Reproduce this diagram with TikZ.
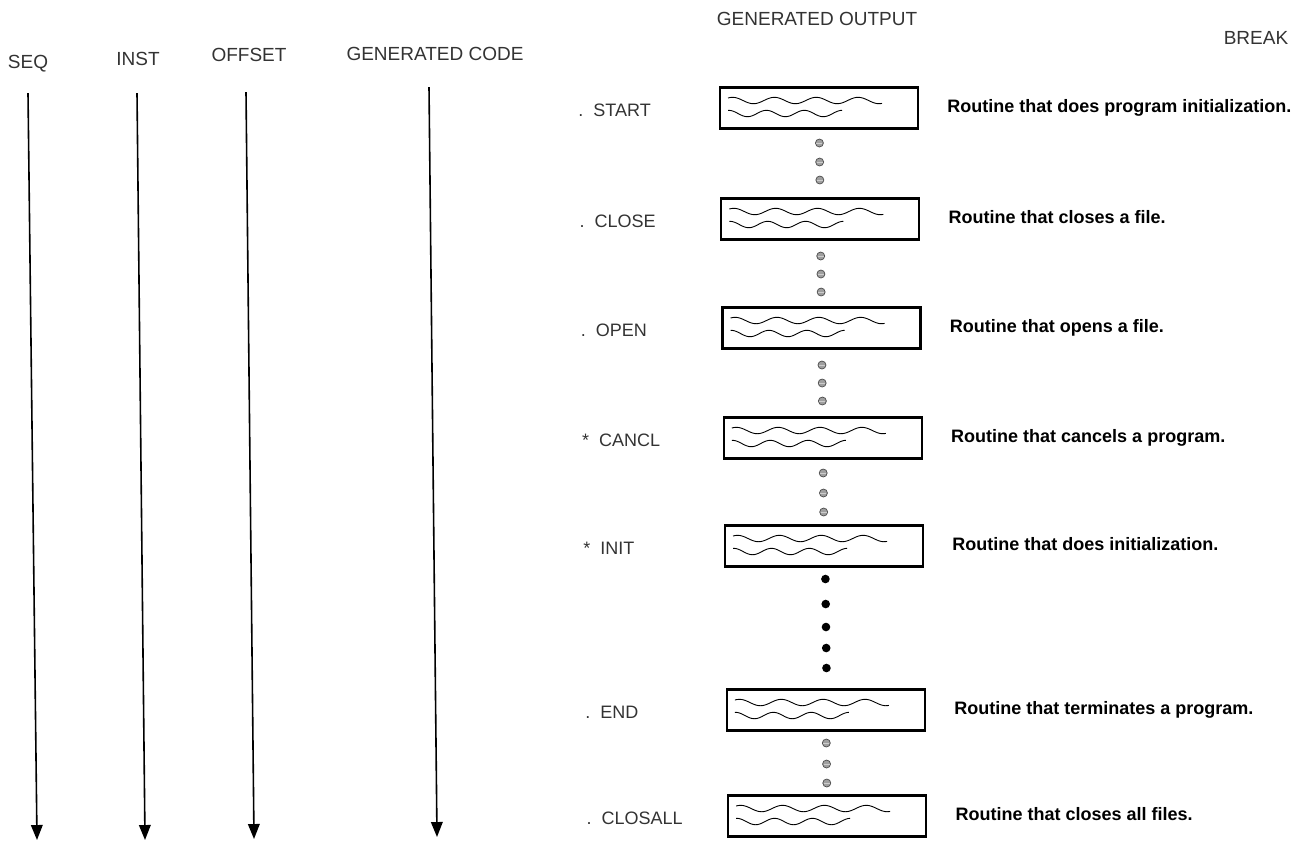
\documentclass[tikz,border=0pt]{standalone}
\usepackage{fontspec}
\setmainfont{Liberation Sans}
\usetikzlibrary{arrows.meta}
\begin{document}
\begin{tikzpicture}[x=0.5pt,y=-0.5pt,
  hdr/.style={font=\fontsize{9.5}{11}\selectfont, text=black!80, inner sep=0pt, anchor=base},
  lbl/.style={font=\fontsize{9}{11}\selectfont, text=black!80, anchor=base west, inner sep=0pt},
  desc/.style={font=\bfseries\fontsize{9}{11}\selectfont, anchor=base west, inner sep=0pt},
  codebox/.style={draw, line width=1.1pt, minimum width=99pt, minimum height=20.5pt, inner sep=0pt},
  flow/.style={line width=0.8pt, -{Triangle[length=7.5pt,width=5.8pt]}},
  wave/.style={line width=0.45pt},
  sdot/.style={circle, fill=gray!75, draw=black!70, line width=0.35pt, minimum size=4pt, inner sep=0pt},
  dotband/.style={white!60!gray, line width=0.5pt},
  bdot/.style={circle, fill=black, minimum size=4.3pt, inner sep=0pt}]

\useasboundingbox (0,0) rectangle (1309,843);

% column headers
\node[hdr] (hseq) at (28,68) {SEQ};
\node[hdr] (hinst) at (138,65) {INST};
\node[hdr] (hoff) at (249,61) {OFFSET};
\node[hdr] (hcode) at (435,60) {GENERATED CODE};
\node[hdr] (hout) at (817,25) {GENERATED OUTPUT};
\node[hdr] (hbrk) at (1256,44) {BREAK};

% vertical flow arrows
\coordinate (seqtop) at (28,93);   \coordinate (seqbot) at (37,840);
\coordinate (insttop) at (137,93); \coordinate (instbot) at (145,840);
\coordinate (offtop) at (246,92);  \coordinate (offbot) at (254,839);
\coordinate (codetop) at (429,87); \coordinate (codebot) at (437,837);
\draw[flow] (seqtop) -- (seqbot);
\draw[flow] (insttop) -- (instbot);
\draw[flow] (offtop) -- (offbot);
\draw[flow] (codetop) -- (codebot);

% generated output rows
\foreach \nm/\yy/\lab/\des in {
  start/108/{.\ \ START}/{Routine that does program initialization.},
  close/219/{.\ \ CLOSE}/{Routine that closes a file.},
  open/328/{.\ \ OPEN}/{Routine that opens a file.},
  cancl/438/{*\ \ CANCL}/{Routine that cancels a program.},
  init/546/{*\ \ INIT}/{Routine that does initialization.},
  end/710/{.\ \ END}/{Routine that terminates a program.},
  closall/816/{.\ \ CLOSALL}/{Routine that closes all files.}}{
  \pgfmathsetmacro\dx{0.0115*(\yy-108)}
  \node[codebox] (\nm) at (819+\dx,\yy) {};
  \node[lbl] (\nm-l) at (578+\dx,\yy+8.5) {\lab};
  \node[desc] (\nm-d) at (947+\dx,\yy+4.5) {\des};
  \draw[wave] plot[domain=0:154,samples=90]
     ({728+\dx+\x},{\yy-7.5+3.2*sin(8.6*(\x-15))});
  \draw[wave] plot[domain=0:114,samples=70]
     ({728+\dx+\x},{\yy+5.5+3.2*sin(9.5*(\x-10))});
}

% small dots
\foreach \yy in {143,162,180, 256,274,292, 365,383,401, 473,493,512, 743,764,783}{
  \pgfmathsetmacro\dx{0.0115*(\yy-108)}
  \node[sdot] (sd\yy) at (819+\dx,\yy) {};
  \draw[dotband] (816+\dx,\yy) -- (822+\dx,\yy);
}
% large dots
\foreach \yy in {579,604,627,648,668}{
  \pgfmathsetmacro\dx{0.0115*(\yy-108)}
  \node[bdot] (bd\yy) at (820+\dx,\yy) {};
}
\end{tikzpicture}
\end{document}
